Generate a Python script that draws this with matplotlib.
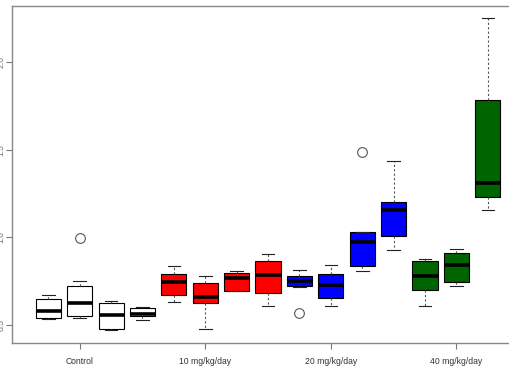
import numpy as np
import matplotlib
matplotlib.use('Agg')
import matplotlib.pyplot as plt

# box statistics (16 positions, 4 per dose group; 15 visible)
positions = [1, 2, 3, 4, 5, 6, 7, 8, 9, 10, 11, 12, 13, 14, 15]
whislo = [0.536, 0.540, 0.474, 0.530, 0.633, 0.475, 0.694, 0.607, 0.717, 0.610, 0.810, 0.926, 0.610, 0.723, 1.158]
q1     = [0.542, 0.553, 0.477, 0.550, 0.673, 0.624, 0.694, 0.681, 0.724, 0.654, 0.837, 1.008, 0.700, 0.744, 1.232]
med    = [0.582, 0.624, 0.557, 0.561, 0.747, 0.658, 0.770, 0.785, 0.751, 0.728, 0.974, 1.155, 0.781, 0.842, 1.312]
q3     = [0.648, 0.721, 0.624, 0.597, 0.789, 0.741, 0.799, 0.867, 0.781, 0.791, 1.029, 1.200, 0.867, 0.911, 1.783]
whishi = [0.671, 0.753, 0.639, 0.600, 0.838, 0.780, 0.808, 0.905, 0.814, 0.842, 1.029, 1.438, 0.877, 0.936, 2.251]
fliers = [[], [0.998], [], [], [], [], [], [], [0.567], [], [1.489], [], [], [], []]
colors = ['white'] * 4 + ['#FF0000'] * 4 + ['#0000FF'] * 4 + ['#006400'] * 3

group_pos = [2, 6, 10, 14]
group_labels = ['Control', '10 mg/kg/day', '20 mg/kg/day', '40 mg/kg/day']
ytick_vals = [0.5, 1.0, 1.5, 2.0]

plt.rcParams['font.family'] = ['Liberation Sans', 'DejaVu Sans']

W, H = 510, 382
fig = plt.figure(figsize=(W / 100, H / 100), dpi=100)
# axes box: left 12.5px, right ~555px (cropped by the image), top 5.7px, bottom 342.7px
ax = fig.add_axes([12.5 / W, (H - 342.7) / H, (555 - 12.5) / W, (342.7 - 5.7) / H])

stats = []
for i in range(len(positions)):
    stats.append(dict(whislo=whislo[i], q1=q1[i], med=med[i], q3=q3[i],
                      whishi=whishi[i], fliers=fliers[i]))

bp = ax.bxp(stats, positions=positions, widths=0.8, patch_artist=True,
            showfliers=True,
            boxprops=dict(edgecolor='black', linewidth=0.8),
            medianprops=dict(color='black', linewidth=2.6, solid_capstyle='butt'),
            whiskerprops=dict(color='#555555', linestyle=(0, (2, 2)), linewidth=0.8),
            capprops=dict(color='#222222', linewidth=0.8),
            capwidths=0.4,
            flierprops=dict(marker='o', markerfacecolor='none', markeredgecolor='#555555',
                            markersize=7, markeredgewidth=0.8))
for patch, c in zip(bp['boxes'], colors):
    patch.set_facecolor(c)

ax.set_xlim(-0.14, 17.14)
ax.set_ylim(0.399, 2.3225)

ax.set_xticks(group_pos)
ax.set_xticklabels(group_labels, fontsize=6.2, color='#333333')
ax.set_yticks(ytick_vals)
ax.set_yticklabels([f'{v:.1f}' for v in ytick_vals], rotation=90, va='center',
                   fontsize=6.2, color='#777777')
ax.tick_params(axis='x', length=4, color='#777777', pad=6)
ax.tick_params(axis='y', length=4, color='#777777', pad=1)
for s in ax.spines.values():
    s.set_color('#888888')
    s.set_linewidth(1.0)

fig.savefig('out.png', dpi=100)
